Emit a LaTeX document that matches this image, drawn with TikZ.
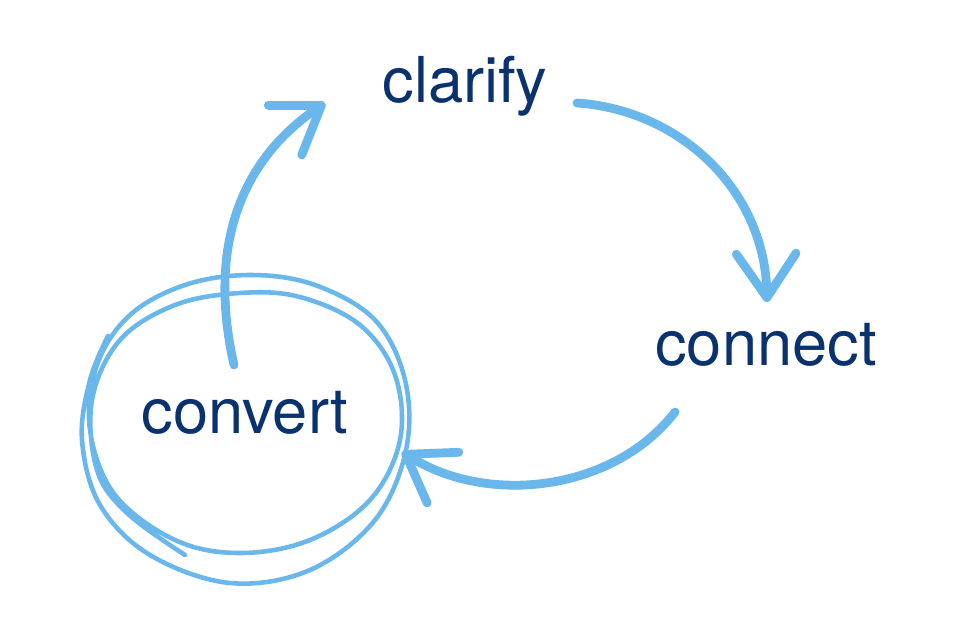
\documentclass[tikz,border=0pt]{standalone}
\usepackage{fontspec}
\setmainfont{TeX Gyre Heros}
\usetikzlibrary{arrows.meta}
\definecolor{navy}{RGB}{10,50,110}
\definecolor{sky}{RGB}{106,183,236}

\begin{document}
\begin{tikzpicture}[
        x = .02cm,
        y = -.02cm,
        word/.style = {text = navy, font = \fontsize{36}{40}\selectfont, inner sep = 0pt, anchor = base},
        loopline/.style = {draw = sky, line width = 5pt, line cap = round,
            -{Straight Barb[length = 25pt, width = 34pt, round]}},
        scribble/.style = {draw = sky, line width = 2.6pt, line cap = round, line join = round}
    ]
        \useasboundingbox (0, 0) rectangle (966, 618);

        \node[word] (clarify) at (465, 103) {clarify};
        \node[word] (connect) at (766, 365) {connect};
        \node[word] (convert) at (245, 433) {convert};

        % the loop round convert
        \draw[scribble] plot[smooth, tension = .6] coordinates {
            (108, 336) (90, 380) (82, 440) (100, 505) (150, 555) (230, 583)
            (310, 570) (375, 520) (406, 450) (405, 380) (375, 320) (315, 285)
            (250, 275) (185, 285) (130, 315) (97, 365) (90, 430) (115, 495)
            (175, 540) (240, 553) (310, 540) (370, 500) (400, 440) (395, 375)
            (360, 325) (300, 297) (240, 293) (175, 305) (120, 340) (92, 400)
            (97, 470) (127, 513) (185, 555)
        };

        \draw[loopline] ([shift = {(-11, -68)}]convert.base)
            .. controls +(-26, -115) and +(-87, 59) .. ([shift = {(-140, 0)}]clarify.base);
        \draw[loopline] ([shift = {(112, 0)}]clarify.base)
            .. controls +(103, 7) and +(-2, -112) .. ([shift = {(1, -63)}]connect.base);
        \draw[loopline] ([shift = {(-91, 47)}]connect.base)
            .. controls +(-60, 78) and +(88, 55) .. ([shift = {(157, 19)}]convert.base);
    \end{tikzpicture}
\end{document}
